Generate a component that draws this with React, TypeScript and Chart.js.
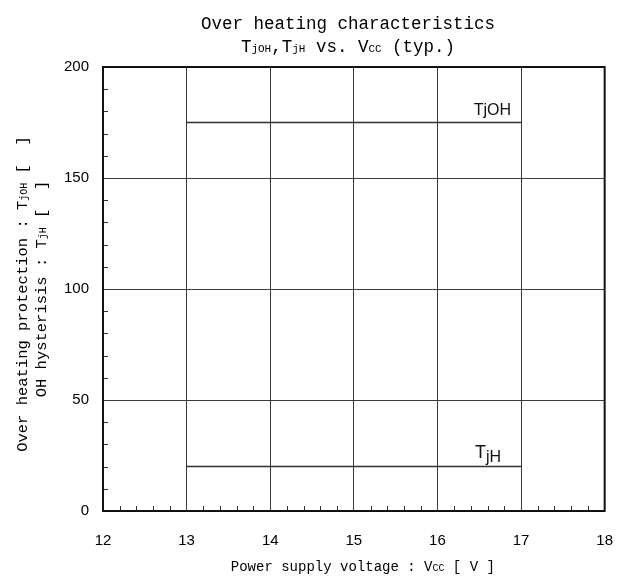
import React, { useEffect, useRef } from "react";
import { Chart, registerables } from "chart.js";

Chart.register(...registerables);

// ---- data ----
const voltage = [13, 14, 15, 16, 17];
const tjOH = [175, 175, 175, 175, 175];
const tjH = [20, 20, 20, 20, 20];
const xRange = [12, 18];
const yRange = [0, 200];

const MONO = "'Liberation Mono', 'DejaVu Sans Mono', monospace";
const SANS = "'Liberation Sans', Arial, sans-serif";

type Seg = { t: string; s: number; dy?: number };

function drawRich(
  ctx: CanvasRenderingContext2D,
  segs: Seg[],
  x: number,
  y: number,
  align: "left" | "center" | "right",
  family: string
) {
  let total = 0;
  const widths = segs.map((sg) => {
    ctx.font = `${sg.s}px ${family}`;
    const w = ctx.measureText(sg.t).width;
    total += w;
    return w;
  });
  let cx = align === "center" ? x - total / 2 : align === "right" ? x - total : x;
  ctx.textAlign = "left";
  ctx.textBaseline = "alphabetic";
  segs.forEach((sg, i) => {
    ctx.font = `${sg.s}px ${family}`;
    ctx.fillText(sg.t, cx, y + (sg.dy || 0));
    cx += widths[i];
  });
}

const decorPlugin = {
  id: "decor",
  afterDraw(chart: any) {
    const ctx: CanvasRenderingContext2D = chart.ctx;
    const { left, right, top, bottom } = chart.chartArea;
    const xs = chart.scales.x;
    const ys = chart.scales.y;
    ctx.save();

    // minor ticks
    ctx.strokeStyle = "#333";
    ctx.lineWidth = 1;
    ctx.beginPath();
    for (let i = 1; i < 30; i++) {
      if (i % 5 === 0) continue;
      const v = xRange[0] + i * 0.2;
      const px = Math.round(xs.getPixelForValue(v)) + 0.5;
      ctx.moveTo(px, bottom);
      ctx.lineTo(px, bottom - 5);
    }
    for (let i = 1; i < 20; i++) {
      if (i % 5 === 0) continue;
      const v = yRange[0] + i * 10;
      const py = Math.round(ys.getPixelForValue(v)) + 0.5;
      ctx.moveTo(left, py);
      ctx.lineTo(left + 5, py);
    }
    ctx.stroke();

    // border
    ctx.strokeStyle = "#111";
    ctx.lineWidth = 2;
    ctx.strokeRect(left, top, right - left, bottom - top);

    ctx.fillStyle = "#000";
    // title
    const cxTitle = 348;
    drawRich(ctx, [{ t: "Over heating characteristics", s: 17.5 }], cxTitle, 29, "center", MONO);
    drawRich(
      ctx,
      [
        { t: "T", s: 17.5 },
        { t: "jOH", s: 11 },
        { t: ",T", s: 17.5 },
        { t: "jH", s: 11 },
        { t: " vs. V", s: 17.5 },
        { t: "CC", s: 11 },
        { t: " (typ.)", s: 17.5 },
      ],
      cxTitle,
      52,
      "center",
      MONO
    );

    // x axis title
    drawRich(
      ctx,
      [
        { t: "Power supply voltage : V", s: 14 },
        { t: "CC", s: 10 },
        { t: " [ V ]", s: 14 },
      ],
      (left + right) / 2 + 9,
      571,
      "center",
      MONO
    );

    // y axis titles
    const cy = (top + bottom) / 2;
    ctx.save();
    ctx.translate(27, cy + 5);
    ctx.rotate(-Math.PI / 2);
    drawRich(
      ctx,
      [
        { t: "Over heating protection : T", s: 15.5 },
        { t: "jOH", s: 10 },
        { t: " [  ]", s: 15.5 },
      ],
      0,
      0,
      "center",
      MONO
    );
    ctx.restore();
    ctx.save();
    ctx.translate(46, cy);
    ctx.rotate(-Math.PI / 2);
    drawRich(
      ctx,
      [
        { t: "OH hysterisis : T", s: 15.5 },
        { t: "jH", s: 10 },
        { t: " [  ]", s: 15.5 },
      ],
      0,
      0,
      "center",
      MONO
    );
    ctx.restore();

    // series labels
    const lx = xs.getPixelForValue(voltage[voltage.length - 1]);
    const ly1 = ys.getPixelForValue(tjOH[tjOH.length - 1]);
    const ly2 = ys.getPixelForValue(tjH[tjH.length - 1]);
    ctx.fillStyle = "#111";
    drawRich(
      ctx,
      [
        { t: "T", s: 16 },
        { t: "jOH", s: 16 },
      ],
      lx - 10,
      ly1 - 8,
      "right",
      SANS
    );
    drawRich(
      ctx,
      [
        { t: "T", s: 18 },
        { t: "jH", s: 16, dy: 4 },
      ],
      lx - 20,
      ly2 - 9,
      "right",
      SANS
    );

    ctx.restore();
  },
};

export default function App() {
  const ref = useRef<HTMLCanvasElement>(null);
  useEffect(() => {
    if (!ref.current) return;
    const chart = new Chart(ref.current, {
      type: "line",
      data: {
        datasets: [
          {
            label: "TjOH",
            data: voltage.map((v, i) => ({ x: v, y: tjOH[i] })),
            borderColor: "#333",
            borderWidth: 1.5,
            pointRadius: 0,
            fill: false,
          },
          {
            label: "TjH",
            data: voltage.map((v, i) => ({ x: v, y: tjH[i] })),
            borderColor: "#333",
            borderWidth: 1.5,
            pointRadius: 0,
            fill: false,
          },
        ],
      },
      options: {
        responsive: false,
        animation: false,
        layout: { padding: { left: 0, right: 20, top: 67, bottom: 0 } },
        plugins: {
          legend: { display: false },
          title: { display: false },
          tooltip: { enabled: false },
        },
        scales: {
          x: {
            type: "linear",
            min: xRange[0],
            max: xRange[1],
            ticks: {
              stepSize: 1,
              color: "#000",
              font: { family: SANS, size: 15 },
              padding: 21,
              maxRotation: 0,
            },
            grid: { color: "#3a3a3a", lineWidth: 1, drawTicks: false },
            border: { display: false },
            afterFit: (s: any) => {
              s.height = 70;
            },
          },
          y: {
            type: "linear",
            min: yRange[0],
            max: yRange[1],
            ticks: {
              stepSize: 50,
              color: "#000",
              font: { family: SANS, size: 15 },
              padding: 14,
            },
            grid: { color: "#3a3a3a", lineWidth: 1, drawTicks: false },
            border: { display: false },
            afterFit: (s: any) => {
              s.width = 103;
            },
          },
        },
      },
      plugins: [decorPlugin],
    });
    return () => chart.destroy();
  }, []);
  return (
    <div style={{ position: "fixed", left: 0, top: 0 }}>
      <canvas ref={ref} width={634} height={581} style={{ display: "block" }} />
    </div>
  );
}
